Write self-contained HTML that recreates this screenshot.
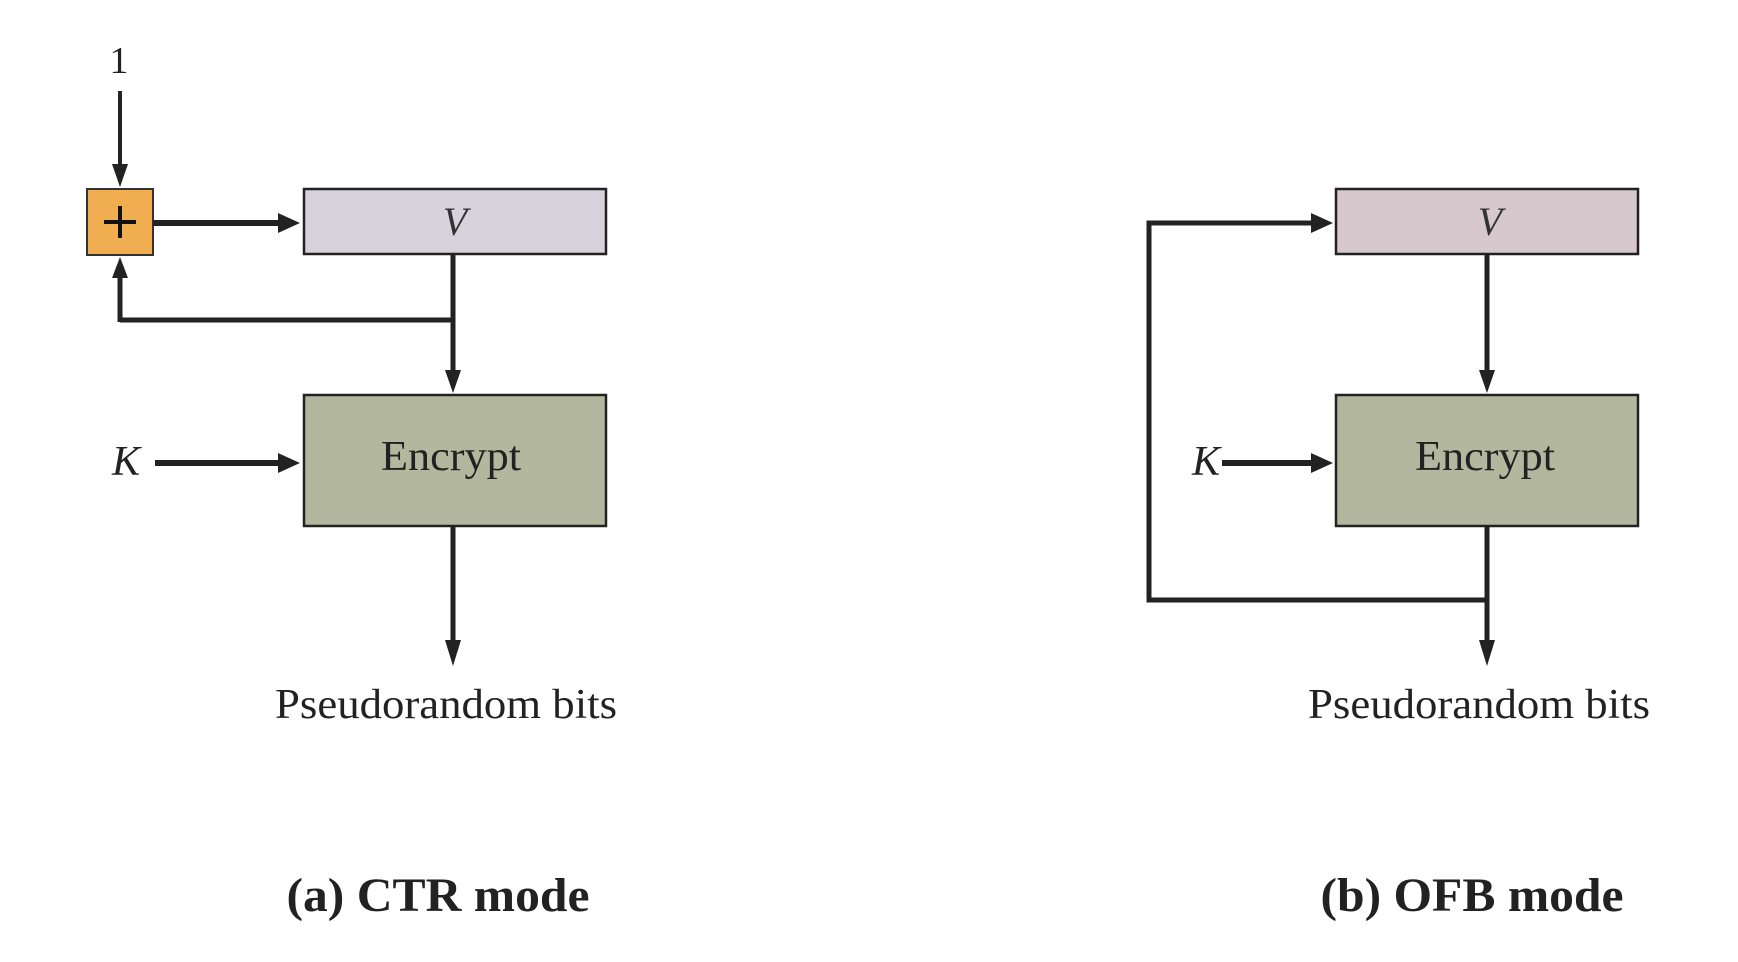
<!DOCTYPE html>
<html><head><meta charset="utf-8"><style>html,body{margin:0;padding:0;background:#fff}svg{display:block}</style></head><body>
<svg width="1738" height="962" viewBox="0 0 1738 962" xmlns="http://www.w3.org/2000/svg" font-family="Liberation Serif, serif">
<defs>
<marker id="a" markerWidth="10" markerHeight="10" refX="9" refY="5" orient="auto" markerUnits="userSpaceOnUse" viewBox="0 0 10 10">
</marker>
</defs>
<g fill="#1a1a1a" stroke="none">
<!-- arrowheads as polygons -->
</g>
<!-- CTR -->
<text x="119" y="73" font-size="38" text-anchor="middle" fill="#222">1</text>
<line x1="120" y1="91" x2="120" y2="170" stroke="#222" stroke-width="4"/>
<polygon points="112,164 128,164 120,187" fill="#222"/>
<rect x="87" y="189" width="66" height="66" fill="#f0ae50" stroke="#333" stroke-width="2"/>
<line x1="104" y1="222" x2="136" y2="222" stroke="#111" stroke-width="4"/>
<line x1="120" y1="206" x2="120" y2="238" stroke="#111" stroke-width="4"/>
<line x1="153" y1="223" x2="285" y2="223" stroke="#222" stroke-width="6"/>
<polygon points="278,213 278,233 300,223" fill="#222"/>
<rect x="304" y="189" width="302" height="65" fill="#d6d3dc" stroke="#222" stroke-width="2.5"/>
<text x="455" y="235" font-size="40" font-style="italic" text-anchor="middle" fill="#333">V</text>
<polyline points="453,254 453,320 120,320 270" fill="none" stroke="#222" stroke-width="5"/>
<line x1="120" y1="322" x2="120" y2="272" stroke="#222" stroke-width="5"/>
<polygon points="112,278 128,278 120,257" fill="#222"/>
<line x1="453" y1="318" x2="453" y2="375" stroke="#222" stroke-width="5"/>
<polygon points="445,370 461,370 453,393" fill="#222"/>
<rect x="304" y="395" width="302" height="131" fill="#b3b79e" stroke="#222" stroke-width="2.5"/>
<text x="451" y="470" font-size="42" text-anchor="middle" fill="#222" textLength="140" lengthAdjust="spacingAndGlyphs">Encrypt</text>
<text x="126" y="475" font-size="42" font-style="italic" text-anchor="middle" fill="#222">K</text>
<line x1="155" y1="463" x2="285" y2="463" stroke="#222" stroke-width="6"/>
<polygon points="278,453 278,473 300,463" fill="#222"/>
<line x1="453" y1="526" x2="453" y2="645" stroke="#222" stroke-width="5"/>
<polygon points="445,640 461,640 453,666" fill="#222"/>
<text x="446" y="718" font-size="42" text-anchor="middle" fill="#222" textLength="342" lengthAdjust="spacingAndGlyphs">Pseudorandom bits</text>
<text x="438" y="911" font-size="48" font-weight="bold" text-anchor="middle" fill="#222" textLength="303" lengthAdjust="spacingAndGlyphs">(a) CTR mode</text>
<!-- OFB -->
<rect x="1336" y="189" width="302" height="65" fill="#d6c8cc" stroke="#222" stroke-width="2.5"/>
<text x="1490" y="235" font-size="40" font-style="italic" text-anchor="middle" fill="#333">V</text>
<line x1="1487" y1="254" x2="1487" y2="375" stroke="#222" stroke-width="5"/>
<polygon points="1479,370 1495,370 1487,393" fill="#222"/>
<rect x="1336" y="395" width="302" height="131" fill="#b3b79e" stroke="#222" stroke-width="2.5"/>
<text x="1485" y="470" font-size="42" text-anchor="middle" fill="#222" textLength="140" lengthAdjust="spacingAndGlyphs">Encrypt</text>
<text x="1206" y="475" font-size="42" font-style="italic" text-anchor="middle" fill="#222">K</text>
<line x1="1222" y1="463" x2="1318" y2="463" stroke="#222" stroke-width="6"/>
<polygon points="1311,453 1311,473 1333,463" fill="#222"/>
<polyline points="1487,526 1487,600 1149,600 1149,223 1318,223" fill="none" stroke="#222" stroke-width="5"/>
<polygon points="1311,213 1311,233 1333,223" fill="#222"/>
<line x1="1487" y1="598" x2="1487" y2="645" stroke="#222" stroke-width="5"/>
<polygon points="1479,640 1495,640 1487,666" fill="#222"/>
<text x="1479" y="718" font-size="42" text-anchor="middle" fill="#222" textLength="342" lengthAdjust="spacingAndGlyphs">Pseudorandom bits</text>
<text x="1472" y="911" font-size="48" font-weight="bold" text-anchor="middle" fill="#222" textLength="303" lengthAdjust="spacingAndGlyphs">(b) OFB mode</text>
</svg>
</body></html>
